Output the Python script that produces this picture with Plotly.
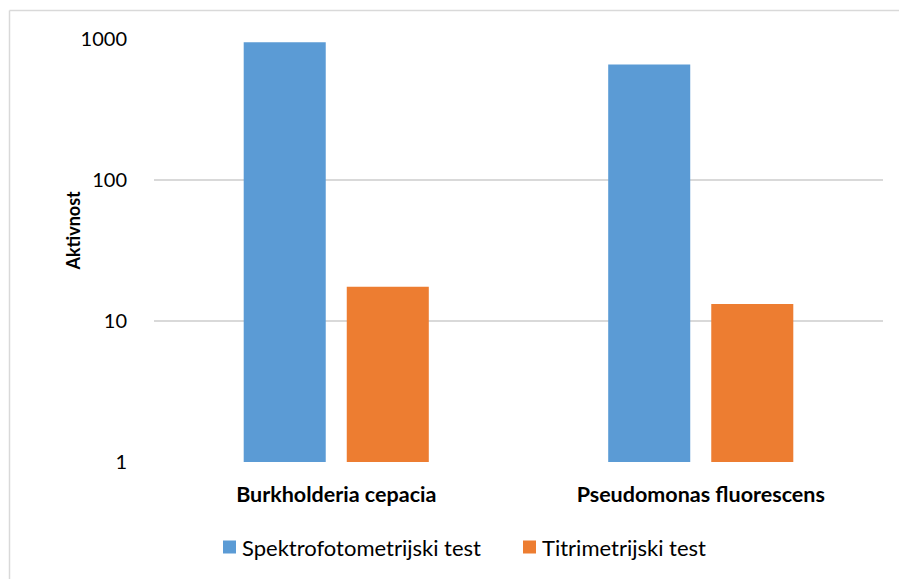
import plotly.graph_objects as go

categories = ["Burkholderia cepacia", "Pseudomonas fluorescens"]
series_names = ["Spektrofotometrijski test", "Titrimetrijski test"]
spektro = [950, 660]
titri = [17.5, 13.2]
tick_vals = [1, 10, 100, 1000]
tick_text = ["1", "10", "100", "1000"]
colors = ["#5B9BD5", "#ED7D31"]

W, H = 899, 579
L, R, T, B = 154, 16, 39, 117
pw, ph = W - L - R, H - T - B

FONT = "Lato, Open Sans, sans-serif"


def px(x):
    return (x - L) / pw


def py(y):
    return (H - B - y) / ph


fig = go.Figure()

for name, vals, col in zip(series_names, [spektro, titri], colors):
    fig.add_trace(go.Bar(
        x=categories, y=vals, name=name,
        marker=dict(color=col, line=dict(width=0))
    ))

# legenda rucno (kvadrat + tekst), kao u Excelu
legend_x = [223, 523]
legend_y = 547
shapes = []
annotations = []
for name, col, lx in zip(series_names, colors, legend_x):
    shapes.append(dict(type="rect", xref="paper", yref="paper",
                       x0=px(lx), x1=px(lx + 13),
                       y0=py(legend_y + 6.5), y1=py(legend_y - 6.5),
                       fillcolor=col, line=dict(width=0)))
    annotations.append(dict(text=name, x=px(lx + 17), y=py(legend_y),
                            xref="paper", yref="paper", xanchor="left",
                            yanchor="middle", showarrow=False,
                            font=dict(size=22, family=FONT, color="#000000")))

annotations.append(dict(
    text="<b>Aktivnost</b>", textangle=-90,
    x=px(59.5), y=py(231), xref="paper", yref="paper",
    showarrow=False, font=dict(size=18, family=FONT, color="#000000")
))

# okvir grafikona (lijevo i gore)
shapes.append(dict(type="line", xref="paper", yref="paper",
                   x0=px(9.5), x1=px(9.5), y0=py(579), y1=py(10.5),
                   line=dict(color="#d9d9d9", width=1.5)))
shapes.append(dict(type="line", xref="paper", yref="paper",
                   x0=px(9.5), x1=px(899), y0=py(10.5), y1=py(10.5),
                   line=dict(color="#d9d9d9", width=1.5)))

fig.update_layout(
    width=W, height=H,
    margin=dict(l=L, r=R, t=T, b=B),
    paper_bgcolor="white", plot_bgcolor="white",
    barmode="group", bargap=0.4345, bargroupgap=0.204,
    font=dict(family=FONT, color="#000000"),
    showlegend=False,
    xaxis=dict(
        showgrid=False, showline=False, zeroline=False,
        ticks="outside", ticklen=13, tickcolor="rgba(0,0,0,0)",
        tickfont=dict(size=21.5, family=FONT, weight="bold"),
    ),
    yaxis=dict(
        type="log", range=[0, 3],
        tickvals=tick_vals, ticktext=tick_text,
        showgrid=True, gridcolor="#d9d9d9", gridwidth=1.5,
        showline=False, zeroline=False,
        ticks="outside", ticklen=22, tickcolor="rgba(0,0,0,0)",
        tickfont=dict(size=20, color="#000000"),
    ),
    annotations=annotations,
    shapes=shapes,
)

fig.write_html("out.html", config={"displayModeBar": False},
               post_script="document.body.style.margin='0px';")
